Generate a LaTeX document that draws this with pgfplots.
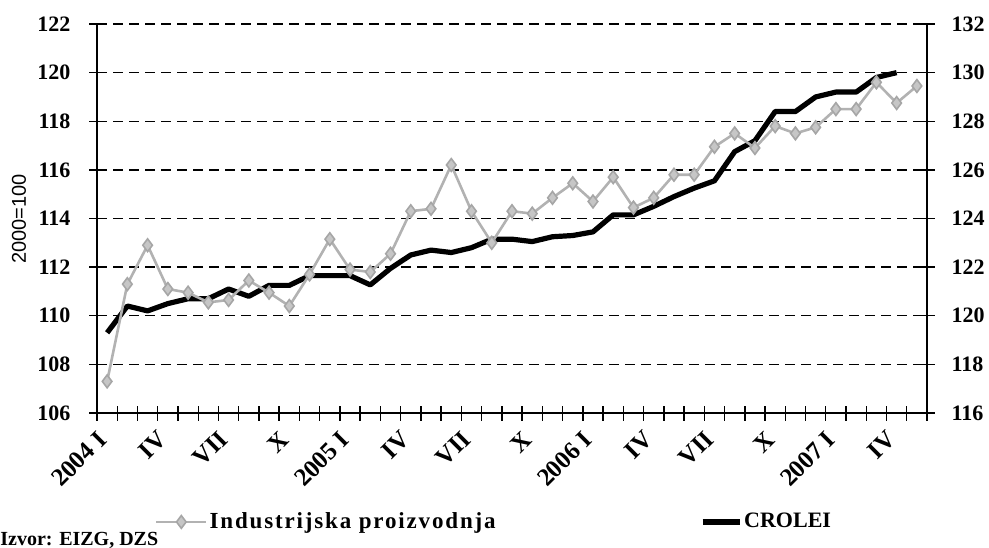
\documentclass[border=0pt]{standalone}
\usepackage{pgfplots}
\usepackage{pgfplotstable}
\pgfplotsset{compat=1.18}
\usepackage{fontspec}
\setmainfont{Liberation Serif}
\newfontfamily\arialf{Liberation Sans}

\pgfplotstableread{
i ip
0 107.3
1 111.3
2 112.9
3 111.1
4 110.95
5 110.55
6 110.65
7 111.45
8 110.95
9 110.4
10 111.7
11 113.15
12 111.9
13 111.8
14 112.55
15 114.3
16 114.4
17 116.2
18 114.3
19 113.0
20 114.3
21 114.2
22 114.85
23 115.45
24 114.7
25 115.7
26 114.45
27 114.85
28 115.8
29 115.8
30 116.95
31 117.5
32 116.9
33 117.8
34 117.5
35 117.75
36 118.5
37 118.5
38 119.6
39 118.75
40 119.45
}\iptable

\pgfplotstableread{
i cro
0 119.3
1 120.4
2 120.2
3 120.5
4 120.7
5 120.7
6 121.1
7 120.8
8 121.25
9 121.25
10 121.65
11 121.65
12 121.65
13 121.27
14 121.95
15 122.5
16 122.7
17 122.6
18 122.8
19 123.15
20 123.15
21 123.05
22 123.25
23 123.3
24 123.45
25 124.15
26 124.15
27 124.5
28 124.9
29 125.25
30 125.55
31 126.75
32 127.2
33 128.4
34 128.4
35 129.0
36 129.2
37 129.2
38 129.8
39 130.0
}\crotable

\begin{document}
\begin{tikzpicture}[x=1pt,y=1pt]
\useasboundingbox (0,0) rectangle (494.5,273.5);
\pgfplotsset{
  common/.style={
    at={(48.5pt,67pt)}, anchor=south west,
    scale only axis, width=415pt, height=194.5pt,
    xmin=-0.5, xmax=40.5,
    tick align=center,
    major tick length=7.5pt,
    minor tick length=7.5pt,
    /pgf/number format/assume math mode=true,
    ticklabel style={font=\fontsize{11}{13}\selectfont\bfseries},
    axis line style={-, line width=0.7pt},
    tick style={line width=0.7pt, black},
    legend style={draw=none, fill=none, inner sep=0pt, outer sep=0pt,
      nodes={inner sep=1pt}},
  }
}
% right axis: CROLEI
\begin{axis}[common,
  axis y line*=right, axis x line=none,
  ymin=116, ymax=132, ytick={116,118,...,132},
  ymajorgrids,
  grid style={black, line width=0.7pt, dash pattern=on 5pt off 3pt},
  yticklabel style={xshift=5pt},
  legend style={at={(0.7265,-0.28)}, anchor=west,
    font=\fontsize{11}{13}\selectfont\bfseries},
  legend image code/.code={\draw[#1] (0pt,0pt) -- (18.5pt,0pt);},
]
\addplot[black, line width=2.6pt, line join=round] table[x=i,y=cro]{\crotable};
\addlegendentry{CROLEI}
\end{axis}
% left axis: industrial production
\begin{axis}[common,
  axis y line*=left, axis x line*=bottom,
  ymin=106, ymax=122, ytick={106,108,...,122},
  yticklabel style={xshift=-6pt},
  xtick={0,3,...,39},
  xticklabels={2004 I, IV, VII, X, 2005 I, IV, VII, X, 2006 I, IV, VII, X, 2007 I, IV},
  major x tick style={draw=none},
  minor xtick={-0.5,0.5,...,40.5},
  xticklabel style={font=\fontsize{12.5}{14}\selectfont\bfseries,
    yshift=-5pt, xshift=0pt, rotate=45, anchor=east},
  legend style={at={(0.0699,-0.28)}, anchor=west,
    font=\fontsize{11.5}{13}\selectfont\bfseries\addfontfeatures{LetterSpace=8}},
  legend image code/.code={\draw[mark repeat=2, mark phase=2, #1] plot coordinates {(0pt,0pt) (12.5pt,0pt) (25pt,0pt)};},
]
\addplot[gray!60, line width=1.3pt, mark=diamond*, mark size=3.2pt,
  mark options={fill=gray!45, draw=gray!70, line width=0.8pt}]
  table[x=i,y=ip]{\iptable};
\addlegendentry{Industrijska proizvodnja}
\end{axis}
\node[rotate=90, font=\arialf\fontsize{10}{12}\selectfont] at (9.5,164) {2000=100};
\node[anchor=base west, font=\fontsize{10}{12}\selectfont\bfseries, inner sep=0pt] at (0,0.8) {Izvor: EIZG, DZS};
\end{tikzpicture}
\end{document}
